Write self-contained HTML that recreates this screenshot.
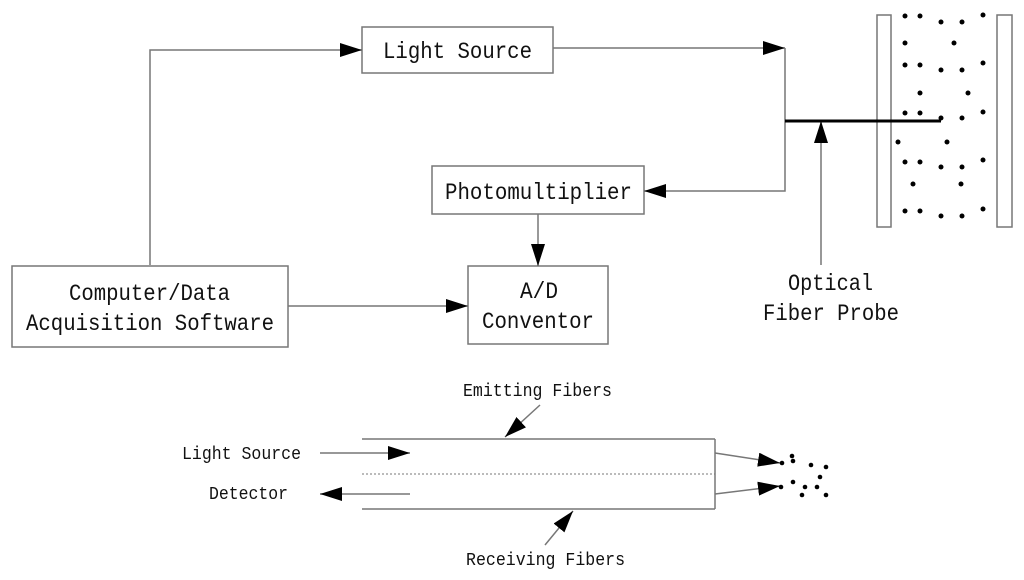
<!DOCTYPE html>
<html><head><meta charset="utf-8"><style>
html,body{margin:0;padding:0;background:#fff;width:1024px;height:580px;overflow:hidden}
svg text{font-family:"Liberation Mono","Noto Sans CJK SC",monospace;fill:#111}
</style></head><body>
<svg width="1024" height="580" viewBox="0 0 1024 580" xmlns="http://www.w3.org/2000/svg">
<defs>
<marker id="b" markerWidth="22" markerHeight="14" refX="22" refY="7" orient="auto" markerUnits="userSpaceOnUse" viewBox="0 0 22 14"><path d="M0,0 L22,7 L0,14 z" fill="#000"/></marker>
</defs>
<g stroke="#777" stroke-width="1.5" fill="none">
<rect x="362" y="27" width="191" height="46"/>
<rect x="432" y="166" width="212" height="48"/>
<rect x="468" y="266" width="140" height="78"/>
<rect x="12" y="266" width="276" height="81"/>
<rect x="877" y="15" width="14" height="212"/>
<rect x="997" y="15" width="15" height="212"/>
<polyline points="150,265 150,50 362,50" marker-end="url(#b)"/>
<polyline points="553,48 785,48" marker-end="url(#b)"/>
<polyline points="785,48 785,191 644,191" marker-end="url(#b)"/>
<line x1="538" y1="214" x2="538" y2="266" marker-end="url(#b)"/>
<line x1="288" y1="306" x2="468" y2="306" marker-end="url(#b)"/>
<line x1="821" y1="265" x2="821" y2="121" marker-end="url(#b)"/>
<line x1="362" y1="439" x2="715" y2="439"/>
<line x1="362" y1="509" x2="715" y2="509"/>
<line x1="715" y1="439" x2="715" y2="509"/>
<line x1="362" y1="474" x2="715" y2="474" stroke-dasharray="2,2" stroke-width="1"/>
<line x1="320" y1="453" x2="410" y2="453" marker-end="url(#b)"/>
<line x1="410" y1="494" x2="320" y2="494" marker-end="url(#b)"/>
<line x1="540" y1="405" x2="505" y2="437" marker-end="url(#b)"/>
<line x1="545" y1="545" x2="573" y2="511" marker-end="url(#b)"/>
<line x1="715" y1="453" x2="780" y2="463" marker-end="url(#b)"/>
<line x1="715" y1="494" x2="780" y2="486" marker-end="url(#b)"/>
</g>
<line x1="785" y1="121" x2="941" y2="121" stroke="#000" stroke-width="3"/>
<g fill="#000">
<circle cx="905" cy="16" r="2.5"/><circle cx="920" cy="16" r="2.5"/><circle cx="941" cy="22" r="2.5"/><circle cx="962" cy="22" r="2.5"/><circle cx="983" cy="15" r="2.5"/>
<circle cx="905" cy="43" r="2.5"/><circle cx="954" cy="43" r="2.5"/>
<circle cx="905" cy="65" r="2.5"/><circle cx="920" cy="65" r="2.5"/><circle cx="941" cy="70" r="2.5"/><circle cx="962" cy="70" r="2.5"/><circle cx="983" cy="63" r="2.5"/>
<circle cx="920" cy="93" r="2.5"/><circle cx="968" cy="93" r="2.5"/>
<circle cx="905" cy="113" r="2.5"/><circle cx="920" cy="113" r="2.5"/><circle cx="941" cy="118" r="2.5"/><circle cx="962" cy="118" r="2.5"/><circle cx="983" cy="112" r="2.5"/>
<circle cx="898" cy="142" r="2.5"/><circle cx="947" cy="142" r="2.5"/>
<circle cx="905" cy="162" r="2.5"/><circle cx="920" cy="162" r="2.5"/><circle cx="941" cy="167" r="2.5"/><circle cx="962" cy="167" r="2.5"/><circle cx="983" cy="160" r="2.5"/>
<circle cx="913" cy="184" r="2.5"/><circle cx="961" cy="184" r="2.5"/>
<circle cx="905" cy="211" r="2.5"/><circle cx="920" cy="211" r="2.5"/><circle cx="941" cy="216" r="2.5"/><circle cx="962" cy="216" r="2.5"/><circle cx="983" cy="209" r="2.5"/>
<circle cx="782" cy="463" r="2.3"/><circle cx="792" cy="456" r="2.3"/><circle cx="793" cy="461" r="2.3"/><circle cx="811" cy="465" r="2.3"/><circle cx="826" cy="467" r="2.3"/>
<circle cx="781" cy="487" r="2.3"/><circle cx="793" cy="482" r="2.3"/><circle cx="805" cy="487" r="2.3"/><circle cx="817" cy="487" r="2.3"/><circle cx="820" cy="477" r="2.3"/><circle cx="802" cy="495" r="2.3"/><circle cx="826" cy="495" r="2.3"/>
</g>
<g font-size="23">
<text x="383" y="58" textLength="149" lengthAdjust="spacingAndGlyphs">Light Source</text>
<text x="445" y="199" textLength="187" lengthAdjust="spacingAndGlyphs">Photomultiplier</text>
<text x="69" y="300" textLength="161" lengthAdjust="spacingAndGlyphs">Computer/Data</text>
<text x="26" y="330" textLength="248" lengthAdjust="spacingAndGlyphs">Acquisition Software</text>
<text x="520" y="298" textLength="38" lengthAdjust="spacingAndGlyphs">A/D</text>
<text x="482" y="328" textLength="112" lengthAdjust="spacingAndGlyphs">Conventor</text>
<text x="788" y="290" textLength="85" lengthAdjust="spacingAndGlyphs">Optical</text>
<text x="763" y="320" textLength="136" lengthAdjust="spacingAndGlyphs">Fiber Probe</text>
</g>
<g font-size="18">
<text x="463" y="396" textLength="149" lengthAdjust="spacingAndGlyphs">Emitting Fibers</text>
<text x="182" y="459" textLength="119" lengthAdjust="spacingAndGlyphs">Light Source</text>
<text x="209" y="499" textLength="79" lengthAdjust="spacingAndGlyphs">Detector</text>
<text x="466" y="565" textLength="159" lengthAdjust="spacingAndGlyphs">Receiving Fibers</text>
</g>
</svg>
</body></html>
